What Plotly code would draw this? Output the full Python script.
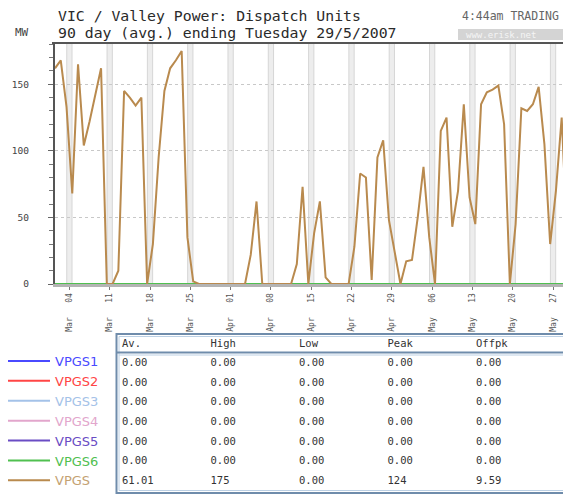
import plotly.graph_objects as go
import pandas as pd

W, H = 563, 496

# ---------------- data ----------------
dates = pd.date_range("2007-03-01 12:00", periods=90, freq="D")
vpgs = [162, 168, 133, 68, 165, 104, 122, 142, 162, 0,
        0, 10, 145, 140, 134, 140, 0, 30, 95, 145,
        162, 168, 175, 35, 2, 0, 0, 0, 0, 0,
        0, 0, 0, 0, 22, 62, 0, 0, 0, 0,
        0, 0, 15, 73, 0, 38, 62, 5, 0, 0,
        0, 0, 28, 83, 80, 3, 95, 108, 48, 25,
        0, 17, 18, 50, 88, 35, 0, 115, 125, 43,
        70, 135, 65, 45, 135, 144, 146, 149, 120, 0,
        45, 132, 130, 135, 148, 105, 30, 70, 125, 30]

units = ["VPGS1", "VPGS2", "VPGS3", "VPGS4", "VPGS5", "VPGS6", "VPGS"]
unit_colors = ["#4a4aff", "#ff4545", "#a4c2e8", "#e2a6cc", "#6a4cc4", "#50c050", "#c4a272"]
other_units_values = [0] * 90

stat_cols = ["Av.", "High", "Low", "Peak", "Offpk"]
stat_av = ["0.00"] * 6 + ["61.01"]
stat_high = ["0.00"] * 6 + ["175"]
stat_low = ["0.00"] * 6 + ["0.00"]
stat_peak = ["0.00"] * 6 + ["124"]
stat_offpk = ["0.00"] * 6 + ["9.59"]

tick_dates = pd.date_range("2007-03-04", periods=13, freq="7D")
tick_text = [d.strftime("%b") + "\u00a0" * 3 + d.strftime("%d") for d in tick_dates]
y_ticks = [0, 50, 100, 150]
y_ticktext = [f"{v}" + "\u00a0" * 3 for v in y_ticks]

# ---------------- helpers ----------------
def px(x):
    return x / W

def py(y):
    return (H - y) / H

mono = "DejaVu Sans Mono"
line_color = "#b98a4e"

fig = go.Figure()

for u, c in zip(units[:-1], unit_colors[:-1]):
    fig.add_trace(go.Scatter(
        x=dates, y=other_units_values, mode="lines",
        line=dict(color=c, width=2),
        name=f"<span style='color:{c}'>{u}</span>",
        xaxis="x", yaxis="y"))

fig.add_trace(go.Scatter(
    x=dates, y=vpgs, mode="lines",
    line=dict(color=line_color, width=2),
    name=f"<span style='color:{unit_colors[-1]}'>{units[-1]}</span>",
    xaxis="x", yaxis="y"))

fig.add_trace(go.Table(
    domain=dict(x=[px(114), 1], y=[py(494), py(331)]),
    columnwidth=[88.5, 88.5, 88.5, 88.5, 95],
    header=dict(values=stat_cols, align="left", height=19,
                fill_color="rgba(0,0,0,0)", line=dict(color="rgba(0,0,0,0)", width=0),
                font=dict(family=mono, size=10.5, color="#333")),
    cells=dict(values=[stat_av, stat_high, stat_low, stat_peak, stat_offpk],
               align="left", height=19.7,
               fill_color="rgba(0,0,0,0)", line=dict(color="rgba(0,0,0,0)", width=0),
               font=dict(family=mono, size=10.5, color="#333")),
))

shapes = []
for t in tick_dates:
    shapes.append(dict(type="rect", xref="x", yref="y domain",
                       x0=t - pd.Timedelta(hours=11), x1=t + pd.Timedelta(hours=11),
                       y0=0, y1=1, fillcolor="#ededed",
                       line=dict(color="#d6d6d6", width=1), layer="below"))
# top border of chart
shapes.append(dict(type="line", xref="paper", yref="paper",
                   x0=px(52), x1=1.05, y0=py(43), y1=py(43),
                   line=dict(color="#555", width=2)))
# table borders
shapes.append(dict(type="rect", xref="paper", yref="paper",
                   x0=px(116.5), x1=1.05, y0=py(493), y1=py(334),
                   line=dict(color="#6f8cab", width=2)))
shapes.append(dict(type="rect", xref="paper", yref="paper",
                   x0=px(119), x1=1.05, y0=py(490.5), y1=py(336.5),
                   line=dict(color="#bcd0e4", width=1)))
shapes.append(dict(type="line", xref="paper", yref="paper",
                   x0=px(116.5), x1=1.05, y0=py(352.5), y1=py(352.5),
                   line=dict(color="#6f8cab", width=2)))
shapes.append(dict(type="line", xref="paper", yref="paper",
                   x0=px(119), x1=1.05, y0=py(355), y1=py(355),
                   line=dict(color="#bcd0e4", width=1)))
# watermark box
shapes.append(dict(type="rect", xref="paper", yref="paper",
                   x0=px(458), x1=1.05, y0=py(40), y1=py(29),
                   fillcolor="#d4d4d4", line=dict(width=0)))

annotations = [
    dict(text="VIC / Valley Power: Dispatch Units", x=px(56), y=py(15),
         xref="paper", yref="paper",
         xanchor="left", yanchor="middle", showarrow=False,
         font=dict(family=mono, size=14.8, color="#2a2a2a")),
    dict(text="90 day (avg.) ending Tuesday 29/5/2007", x=px(56), y=py(32),
         xref="paper", yref="paper",
         xanchor="left", yanchor="middle", showarrow=False,
         font=dict(family=mono, size=14.8, color="#2a2a2a")),
    dict(text="MW", x=px(13), y=py(32), xref="paper", yref="paper",
         xanchor="left", yanchor="middle",
         showarrow=False, font=dict(family=mono, size=11, color="#444")),
    dict(text="4:44am TRADING", x=px(460), y=py(16), xref="paper", yref="paper",
         xanchor="left", yanchor="middle", showarrow=False,
         font=dict(family=mono, size=11.5, color="#666")),
    dict(text="www.erisk.net", x=px(464), y=py(34.5), xref="paper", yref="paper",
         xanchor="left", yanchor="middle", showarrow=False,
         font=dict(family=mono, size=9, color="#f4f4f4")),
]

fig.update_layout(
    width=W, height=H,
    margin=dict(l=0, r=0, t=0, b=0, autoexpand=False),
    paper_bgcolor="white", plot_bgcolor="white",
    showlegend=True,
    legend=dict(x=px(3), y=py(346), xanchor="left", yanchor="top",
                itemwidth=42,
                font=dict(family="DejaVu Sans", size=13, color="#333"),
                bgcolor="rgba(0,0,0,0)", tracegroupgap=0),
    xaxis=dict(type="date", domain=[px(55), 1],
               range=[pd.Timestamp("2007-03-01 12:00"), pd.Timestamp("2007-05-28 17:30")],
               tickvals=tick_dates, ticktext=tick_text, tickangle=-90,
               ticks="outside", ticklen=3, tickcolor="#777",
               tickfont=dict(family=mono, size=8, color="#555"),
               showline=True, linecolor="#b4b4b4", linewidth=3,
               showgrid=False, zeroline=False, anchor="y"),
    yaxis=dict(domain=[py(284), py(43)], range=[0, 181],
               tickvals=y_ticks, ticktext=y_ticktext,
               ticks="outside", ticklen=5, tickcolor="#666",
               minor=dict(dtick=10, ticks="outside", ticklen=4, tickcolor="#777", showgrid=False),
               tickfont=dict(family=mono, size=9.5, color="#444"),
               showline=True, linecolor="#555", linewidth=2,
               showgrid=True, gridcolor="#c8c8c8", griddash="dot", gridwidth=1,
               zeroline=False, anchor="x"),
    shapes=shapes,
    annotations=annotations,
)

fig.write_html("out.html",
               config={"displayModeBar": False},
               post_script="document.body.style.margin='0';document.body.style.overflow='hidden';")
